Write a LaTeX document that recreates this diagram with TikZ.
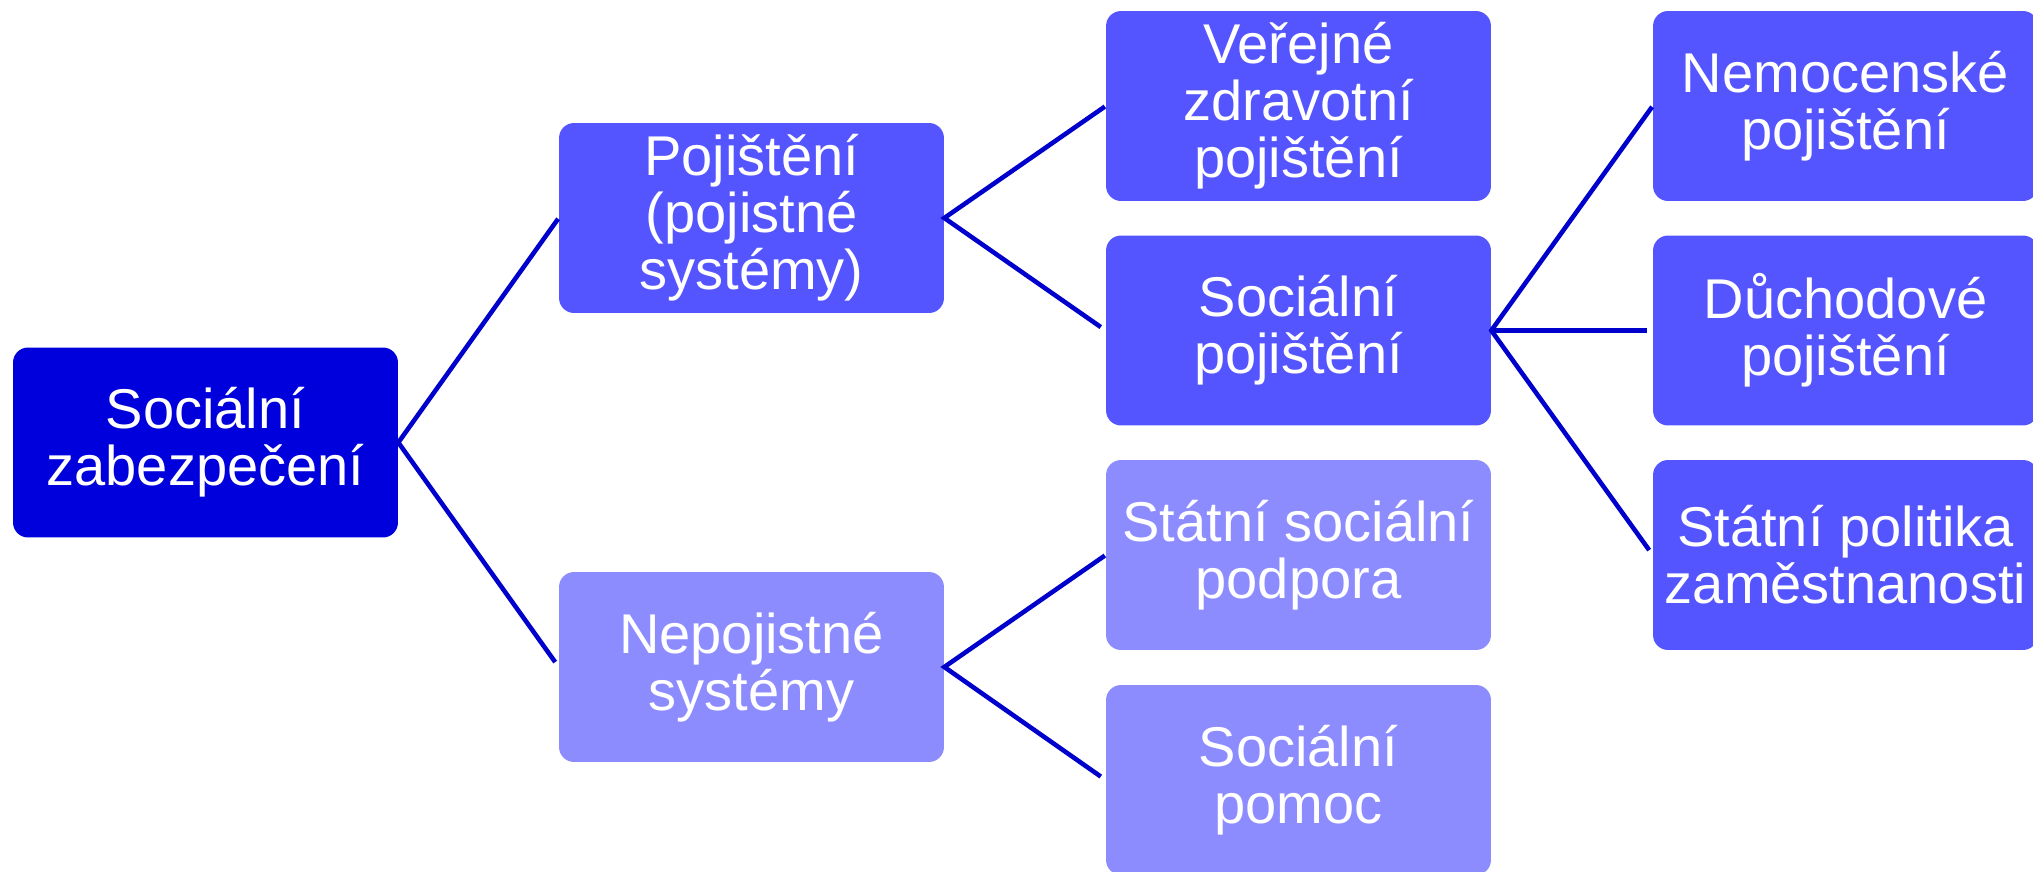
\documentclass[tikz,border=0pt]{standalone}
\usepackage{fontspec}
\setmainfont{Liberation Sans}
\usepackage{xcolor}

\definecolor{rootblue}{RGB}{0,0,220}
\definecolor{midblue}{RGB}{85,85,255}
\definecolor{paleblue}{RGB}{140,140,255}
\definecolor{linkblue}{RGB}{0,0,204}

\tikzset{
  box/.style={rectangle, rounded corners=0.3cm, minimum width=7.7cm, minimum height=3.8cm,
    inner sep=0pt, align=center, text=white, font=\fontsize{31.9}{32.5}\selectfont},
  link/.style={draw=linkblue, line width=2.6pt, line join=miter, shorten <=0.02cm, shorten >=0.12cm}
}

\begin{document}
\begin{tikzpicture}[x=0.02cm,y=-0.02cm]
        \useasboundingbox (0,0) rectangle (2033,872);
        \node[box,fill=rootblue] (zab) at (205.5,442.5) {Sociální\\zabezpečení};
        \node[box,fill=midblue] (poj) at (751.5,218) {Pojištění\\(pojistné\\systémy)};
        \node[box,fill=paleblue] (nepoj) at (751.5,667) {Nepojistné\\systémy};
        \node[box,fill=midblue] (zdrav) at (1298.5,106) {Veřejné\\zdravotní\\pojištění};
        \node[box,fill=midblue] (socpoj) at (1298.5,330.5) {Sociální\\pojištění};
        \node[box,fill=paleblue] (podpora) at (1298.5,555) {Státní sociální\\podpora};
        \node[box,fill=paleblue] (pomoc) at (1298.5,780) {Sociální\\pomoc};
        \node[box,fill=midblue] (nemoc) at (1845.5,106) {Nemocenské\\pojištění};
        \node[box,fill=midblue] (duch) at (1845.5,330.5) {Důchodové\\pojištění};
        \node[box,fill=midblue] (zamest) at (1845.5,555) {Státní politika\\zaměstnanosti};
        \draw[link] (poj.west) -- (zab.east) -- (nepoj.west);
        \draw[link] (zdrav.west) -- (poj.east) -- (socpoj.west);
        \draw[link] (podpora.west) -- (nepoj.east) -- (pomoc.west);
        \draw[link] (nemoc.west) -- (socpoj.east) -- (zamest.west);
        \draw[link] (socpoj.east) -- (duch.west);
    \end{tikzpicture}
\end{document}
